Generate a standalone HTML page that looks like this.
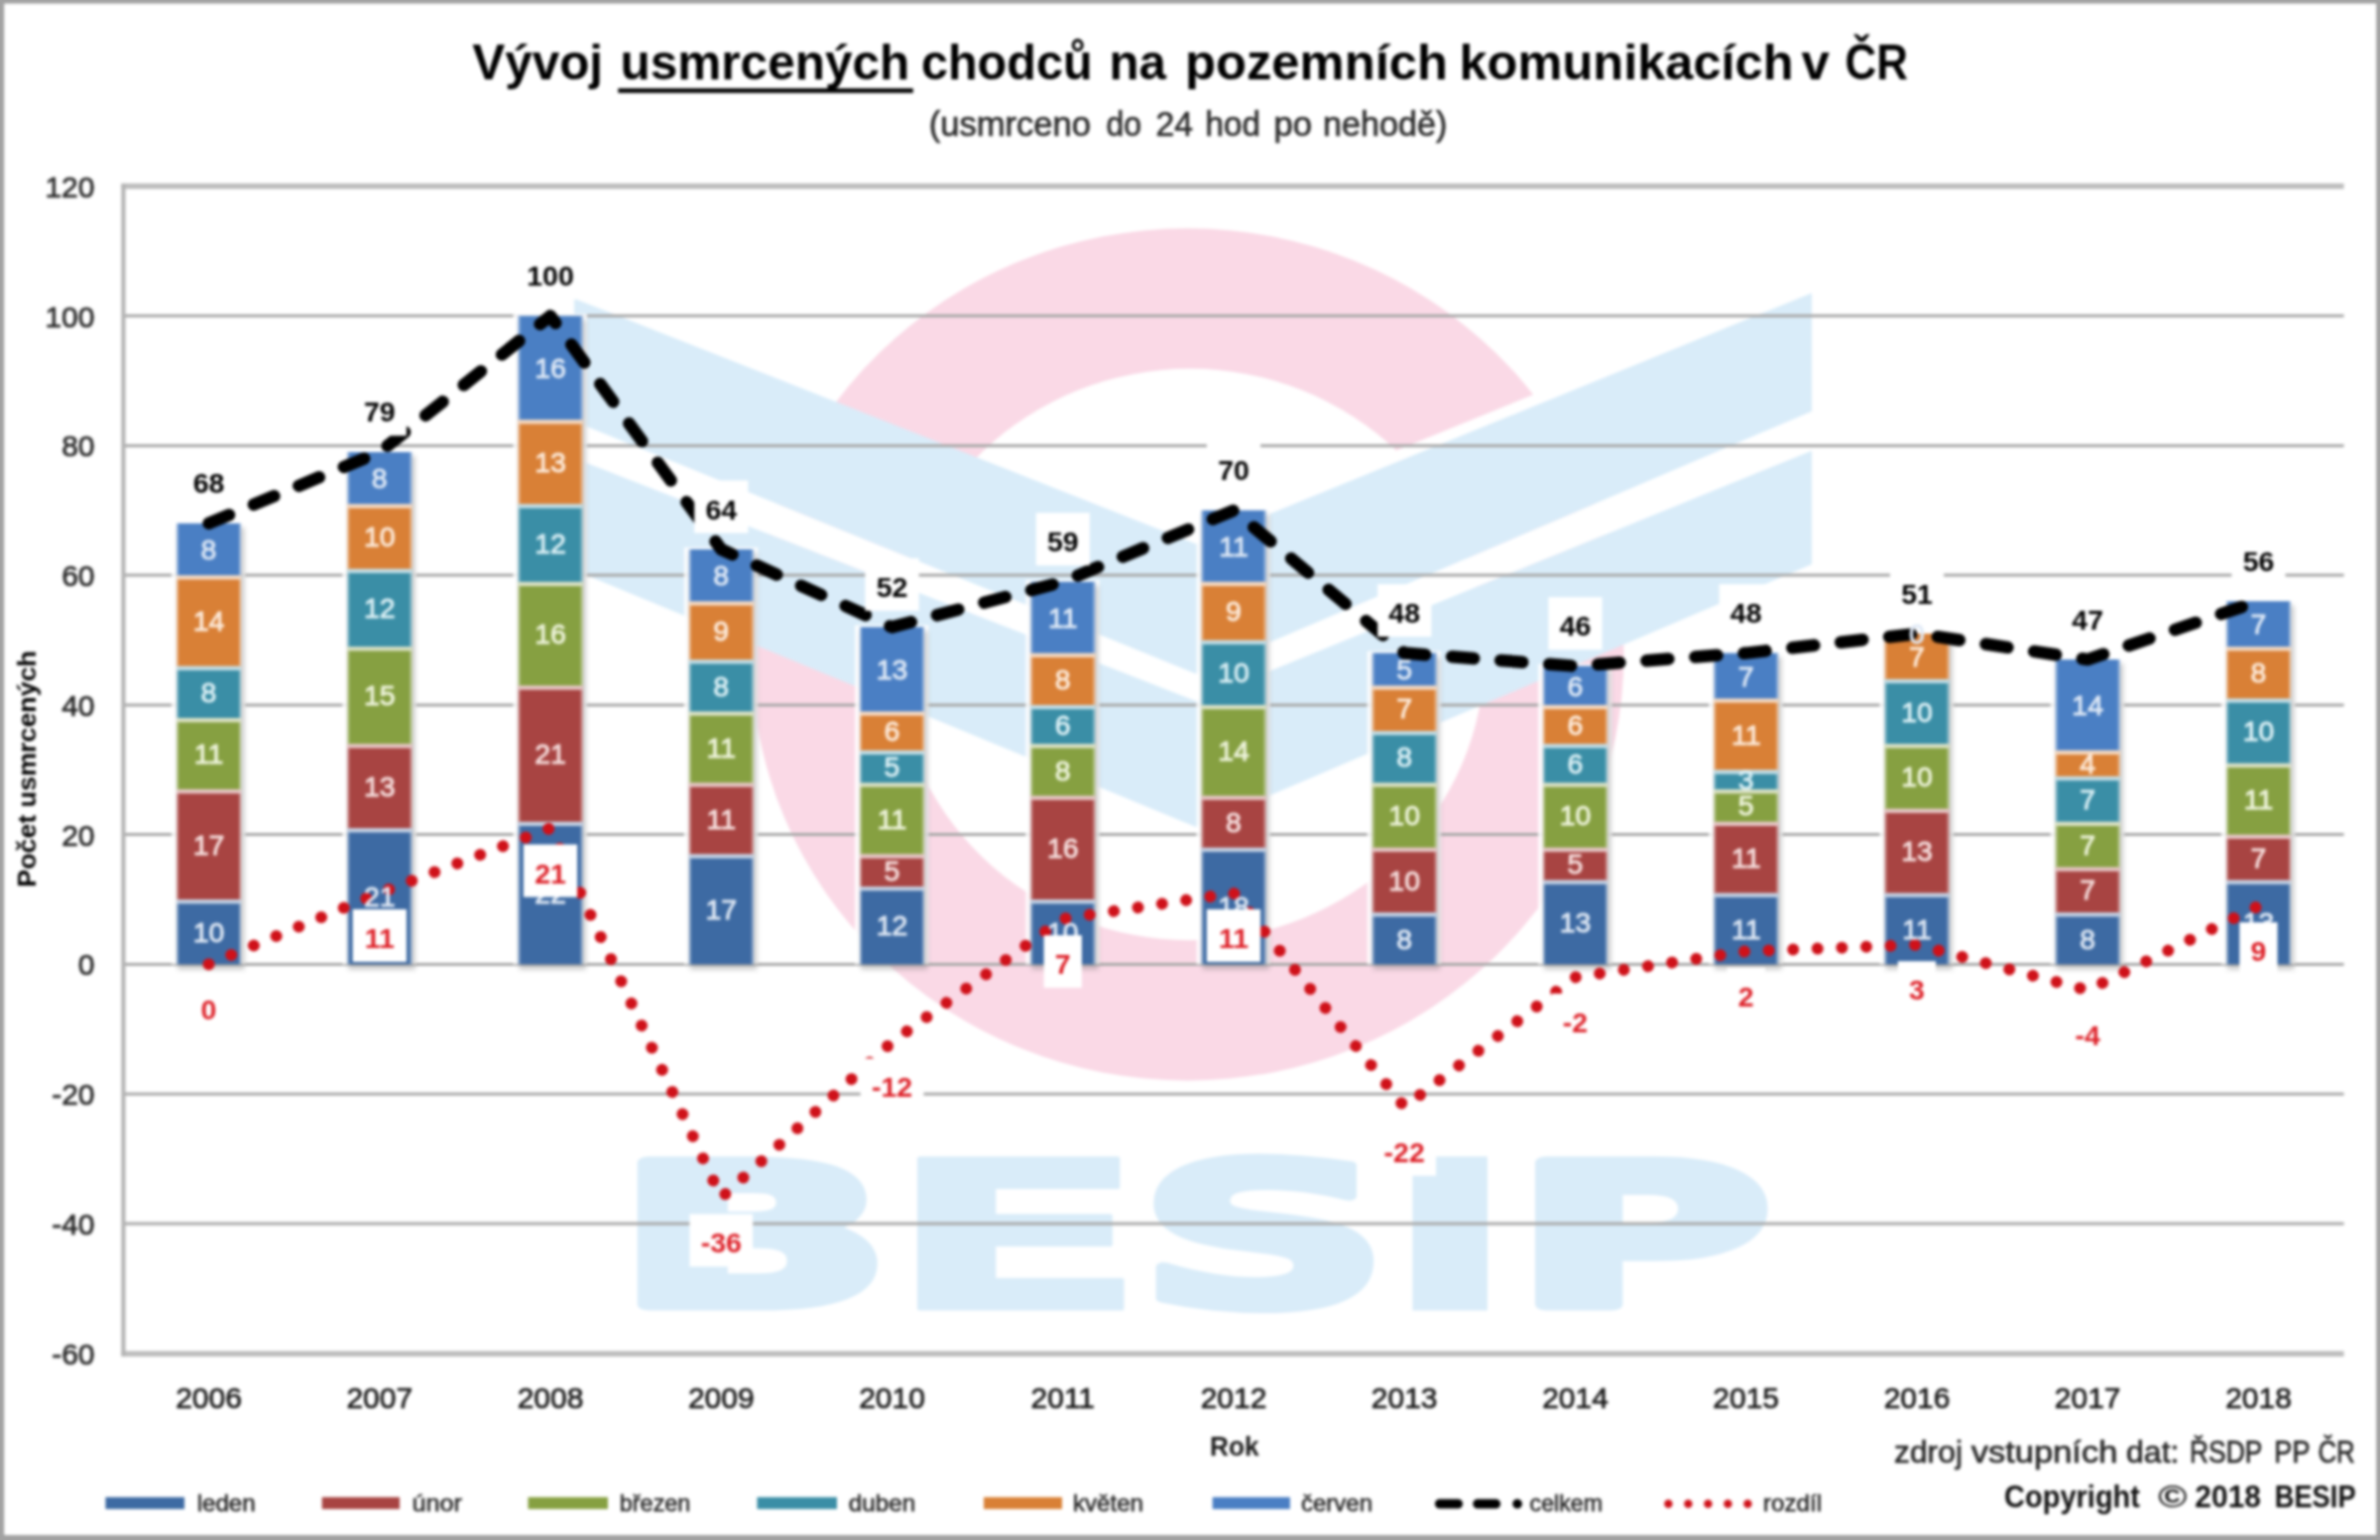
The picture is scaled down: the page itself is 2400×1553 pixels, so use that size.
<!DOCTYPE html>
<html lang="cs">
<head>
<meta charset="utf-8">
<title>Vývoj usmrcených chodců na pozemních komunikacích v ČR</title>
<style>
html,body{margin:0;padding:0;background:#a2a2a2;}
body{width:2400px;height:1553px;overflow:hidden;font-family:"Liberation Sans", "DejaVu Sans", sans-serif;}
svg{display:block;filter:blur(1.5px);}
</style>
</head>
<body>
<svg width="2400" height="1553" viewBox="0 0 2400 1553" font-family='"Liberation Sans", "DejaVu Sans", sans-serif'>
<defs>
<filter id="sh" x="-20%" y="-5%" width="150%" height="115%"><feGaussianBlur stdDeviation="2.2"/></filter>
</defs>
<rect x="0" y="0" width="2400" height="1553" fill="#a2a2a2"/>
<rect x="4.2" y="3.6" width="2392.0" height="1544.4" fill="#ffffff"/>
<g id="watermark">
<path d="M757.5,660 A440,429.5 0 1 0 1637.5,660 A440,429.5 0 1 0 757.5,660 Z M903,660 A297,288 0 1 0 1497,660 A297,288 0 1 0 903,660 Z" fill="#fad9e6" fill-rule="evenodd"/>
<path d="M1206,548.5 L1827,295.5" stroke="#ffffff" stroke-width="22" fill="none"/>
<path d="M579,425 L1206,679.5 L1827,414.7 L1827,454.5 L1206,707 L579,462 Z" fill="#ffffff"/>
<path d="M579,301 L1206,548.5 L1827,295.5 L1827,414.7 L1206,679.5 L579,425 Z" fill="#d9ecf9"/>
<path d="M579,462 L1206,707 L1827,454.5 L1827,569 L1206,834 L579,575 Z" fill="#d9ecf9"/>
<text font-family='"DejaVu Sans", "Liberation Sans", sans-serif' font-weight="bold" fill="#d9ecf9" stroke="#d9ecf9" stroke-linejoin="round"><tspan x="620.3" y="1315.5" font-size="196.6" stroke-width="12" textLength="279.0" lengthAdjust="spacingAndGlyphs">B</tspan><tspan x="891.9" y="1320.0" font-size="208.9" stroke-width="3" textLength="267.5" lengthAdjust="spacingAndGlyphs">E</tspan><tspan x="1145.7" y="1317.0" font-size="200.7" stroke-width="9" textLength="257.7" lengthAdjust="spacingAndGlyphs">S</tspan><tspan x="1387.6" y="1321.5" font-size="213.0" stroke-width="0" textLength="149.4" lengthAdjust="spacingAndGlyphs">I</tspan><tspan x="1526.3" y="1315.5" font-size="196.6" stroke-width="12" textLength="260.0" lengthAdjust="spacingAndGlyphs">P</tspan></text>
</g>
<g id="grid">
<line x1="124.4" y1="1233.9" x2="2363.6" y2="1233.9" stroke="#a8a8a8" stroke-width="3"/>
<line x1="124.4" y1="1103.2" x2="2363.6" y2="1103.2" stroke="#a8a8a8" stroke-width="3"/>
<line x1="124.4" y1="972.4" x2="2363.6" y2="972.4" stroke="#a8a8a8" stroke-width="3"/>
<line x1="124.4" y1="841.6" x2="2363.6" y2="841.6" stroke="#a8a8a8" stroke-width="3"/>
<line x1="124.4" y1="710.9" x2="2363.6" y2="710.9" stroke="#a8a8a8" stroke-width="3"/>
<line x1="124.4" y1="580.1" x2="2363.6" y2="580.1" stroke="#a8a8a8" stroke-width="3"/>
<line x1="124.4" y1="449.4" x2="2363.6" y2="449.4" stroke="#a8a8a8" stroke-width="3"/>
<line x1="124.4" y1="318.6" x2="2363.6" y2="318.6" stroke="#a8a8a8" stroke-width="3"/>
<line x1="122.2" y1="187.8" x2="2363.6" y2="187.8" stroke="#bcbcbc" stroke-width="5.5"/>
<line x1="122.2" y1="1365.2" x2="2363.6" y2="1365.2" stroke="#bcbcbc" stroke-width="5.5"/>
<line x1="124.4" y1="185.3" x2="124.4" y2="1367.7" stroke="#b4b4b4" stroke-width="4.2"/>
</g>
<g id="bars">
<rect x="173.0" y="525.8" width="74.5" height="446.6" fill="#ffffff" opacity="0.85"/>
<rect x="179.0" y="531.8" width="67.5" height="446.1" fill="#606060" opacity="0.3" filter="url(#sh)"/>
<rect x="178.0" y="907.0" width="65.0" height="65.4" fill="#3d6aa3"/>
<rect x="178.0" y="905.8" width="65.0" height="5.6" fill="#c9d5e5" opacity="0.95"/>
<rect x="178.0" y="907.0" width="2" height="65.4" fill="#c9d5e5" opacity="0.55"/>
<rect x="241.0" y="907.0" width="2" height="65.4" fill="#c9d5e5" opacity="0.55"/>
<rect x="178.0" y="795.9" width="65.0" height="111.1" fill="#a84442"/>
<rect x="178.0" y="794.7" width="65.0" height="5.6" fill="#e7cbca" opacity="0.95"/>
<rect x="178.0" y="795.9" width="2" height="111.1" fill="#e7cbca" opacity="0.55"/>
<rect x="241.0" y="795.9" width="2" height="111.1" fill="#e7cbca" opacity="0.55"/>
<rect x="178.0" y="724.0" width="65.0" height="71.9" fill="#86a041"/>
<rect x="178.0" y="722.8" width="65.0" height="5.6" fill="#dde4ca" opacity="0.95"/>
<rect x="178.0" y="724.0" width="2" height="71.9" fill="#dde4ca" opacity="0.55"/>
<rect x="241.0" y="724.0" width="2" height="71.9" fill="#dde4ca" opacity="0.55"/>
<rect x="178.0" y="671.7" width="65.0" height="52.3" fill="#3a8ea6"/>
<rect x="178.0" y="670.5" width="65.0" height="5.6" fill="#c8dfe6" opacity="0.95"/>
<rect x="178.0" y="671.7" width="2" height="52.3" fill="#c8dfe6" opacity="0.55"/>
<rect x="241.0" y="671.7" width="2" height="52.3" fill="#c8dfe6" opacity="0.55"/>
<rect x="178.0" y="580.1" width="65.0" height="91.5" fill="#d98036"/>
<rect x="178.0" y="578.9" width="65.0" height="5.6" fill="#f4dbc7" opacity="0.95"/>
<rect x="178.0" y="580.1" width="2" height="91.5" fill="#f4dbc7" opacity="0.55"/>
<rect x="241.0" y="580.1" width="2" height="91.5" fill="#f4dbc7" opacity="0.55"/>
<rect x="178.0" y="527.8" width="65.0" height="52.3" fill="#4a7fc4"/>
<rect x="178.0" y="527.8" width="2" height="52.3" fill="#ccdbee" opacity="0.55"/>
<rect x="241.0" y="527.8" width="2" height="52.3" fill="#ccdbee" opacity="0.55"/>
<rect x="345.3" y="453.9" width="74.5" height="518.5" fill="#ffffff" opacity="0.85"/>
<rect x="351.3" y="459.9" width="67.5" height="518.0" fill="#606060" opacity="0.3" filter="url(#sh)"/>
<rect x="350.3" y="835.1" width="65.0" height="137.3" fill="#3d6aa3"/>
<rect x="350.3" y="833.9" width="65.0" height="5.6" fill="#c9d5e5" opacity="0.95"/>
<rect x="350.3" y="835.1" width="2" height="137.3" fill="#c9d5e5" opacity="0.55"/>
<rect x="413.3" y="835.1" width="2" height="137.3" fill="#c9d5e5" opacity="0.55"/>
<rect x="350.3" y="750.1" width="65.0" height="85.0" fill="#a84442"/>
<rect x="350.3" y="748.9" width="65.0" height="5.6" fill="#e7cbca" opacity="0.95"/>
<rect x="350.3" y="750.1" width="2" height="85.0" fill="#e7cbca" opacity="0.55"/>
<rect x="413.3" y="750.1" width="2" height="85.0" fill="#e7cbca" opacity="0.55"/>
<rect x="350.3" y="652.0" width="65.0" height="98.1" fill="#86a041"/>
<rect x="350.3" y="650.8" width="65.0" height="5.6" fill="#dde4ca" opacity="0.95"/>
<rect x="350.3" y="652.0" width="2" height="98.1" fill="#dde4ca" opacity="0.55"/>
<rect x="413.3" y="652.0" width="2" height="98.1" fill="#dde4ca" opacity="0.55"/>
<rect x="350.3" y="573.6" width="65.0" height="78.5" fill="#3a8ea6"/>
<rect x="350.3" y="572.4" width="65.0" height="5.6" fill="#c8dfe6" opacity="0.95"/>
<rect x="350.3" y="573.6" width="2" height="78.5" fill="#c8dfe6" opacity="0.55"/>
<rect x="413.3" y="573.6" width="2" height="78.5" fill="#c8dfe6" opacity="0.55"/>
<rect x="350.3" y="508.2" width="65.0" height="65.4" fill="#d98036"/>
<rect x="350.3" y="507.0" width="65.0" height="5.6" fill="#f4dbc7" opacity="0.95"/>
<rect x="350.3" y="508.2" width="2" height="65.4" fill="#f4dbc7" opacity="0.55"/>
<rect x="413.3" y="508.2" width="2" height="65.4" fill="#f4dbc7" opacity="0.55"/>
<rect x="350.3" y="455.9" width="65.0" height="52.3" fill="#4a7fc4"/>
<rect x="350.3" y="455.9" width="2" height="52.3" fill="#ccdbee" opacity="0.55"/>
<rect x="413.3" y="455.9" width="2" height="52.3" fill="#ccdbee" opacity="0.55"/>
<rect x="517.5" y="316.6" width="74.5" height="655.8" fill="#ffffff" opacity="0.85"/>
<rect x="523.5" y="322.6" width="67.5" height="655.3" fill="#606060" opacity="0.3" filter="url(#sh)"/>
<rect x="522.5" y="828.6" width="65.0" height="143.8" fill="#3d6aa3"/>
<rect x="522.5" y="827.4" width="65.0" height="5.6" fill="#c9d5e5" opacity="0.95"/>
<rect x="522.5" y="828.6" width="2" height="143.8" fill="#c9d5e5" opacity="0.55"/>
<rect x="585.5" y="828.6" width="2" height="143.8" fill="#c9d5e5" opacity="0.55"/>
<rect x="522.5" y="691.3" width="65.0" height="137.3" fill="#a84442"/>
<rect x="522.5" y="690.1" width="65.0" height="5.6" fill="#e7cbca" opacity="0.95"/>
<rect x="522.5" y="691.3" width="2" height="137.3" fill="#e7cbca" opacity="0.55"/>
<rect x="585.5" y="691.3" width="2" height="137.3" fill="#e7cbca" opacity="0.55"/>
<rect x="522.5" y="586.7" width="65.0" height="104.6" fill="#86a041"/>
<rect x="522.5" y="585.5" width="65.0" height="5.6" fill="#dde4ca" opacity="0.95"/>
<rect x="522.5" y="586.7" width="2" height="104.6" fill="#dde4ca" opacity="0.55"/>
<rect x="585.5" y="586.7" width="2" height="104.6" fill="#dde4ca" opacity="0.55"/>
<rect x="522.5" y="508.2" width="65.0" height="78.5" fill="#3a8ea6"/>
<rect x="522.5" y="507.0" width="65.0" height="5.6" fill="#c8dfe6" opacity="0.95"/>
<rect x="522.5" y="508.2" width="2" height="78.5" fill="#c8dfe6" opacity="0.55"/>
<rect x="585.5" y="508.2" width="2" height="78.5" fill="#c8dfe6" opacity="0.55"/>
<rect x="522.5" y="423.2" width="65.0" height="85.0" fill="#d98036"/>
<rect x="522.5" y="422.0" width="65.0" height="5.6" fill="#f4dbc7" opacity="0.95"/>
<rect x="522.5" y="423.2" width="2" height="85.0" fill="#f4dbc7" opacity="0.55"/>
<rect x="585.5" y="423.2" width="2" height="85.0" fill="#f4dbc7" opacity="0.55"/>
<rect x="522.5" y="318.6" width="65.0" height="104.6" fill="#4a7fc4"/>
<rect x="522.5" y="318.6" width="2" height="104.6" fill="#ccdbee" opacity="0.55"/>
<rect x="585.5" y="318.6" width="2" height="104.6" fill="#ccdbee" opacity="0.55"/>
<rect x="689.8" y="552.0" width="74.5" height="420.4" fill="#ffffff" opacity="0.85"/>
<rect x="695.8" y="558.0" width="67.5" height="419.9" fill="#606060" opacity="0.3" filter="url(#sh)"/>
<rect x="694.8" y="861.3" width="65.0" height="111.1" fill="#3d6aa3"/>
<rect x="694.8" y="860.1" width="65.0" height="5.6" fill="#c9d5e5" opacity="0.95"/>
<rect x="694.8" y="861.3" width="2" height="111.1" fill="#c9d5e5" opacity="0.55"/>
<rect x="757.8" y="861.3" width="2" height="111.1" fill="#c9d5e5" opacity="0.55"/>
<rect x="694.8" y="789.3" width="65.0" height="71.9" fill="#a84442"/>
<rect x="694.8" y="788.1" width="65.0" height="5.6" fill="#e7cbca" opacity="0.95"/>
<rect x="694.8" y="789.3" width="2" height="71.9" fill="#e7cbca" opacity="0.55"/>
<rect x="757.8" y="789.3" width="2" height="71.9" fill="#e7cbca" opacity="0.55"/>
<rect x="694.8" y="717.4" width="65.0" height="71.9" fill="#86a041"/>
<rect x="694.8" y="716.2" width="65.0" height="5.6" fill="#dde4ca" opacity="0.95"/>
<rect x="694.8" y="717.4" width="2" height="71.9" fill="#dde4ca" opacity="0.55"/>
<rect x="757.8" y="717.4" width="2" height="71.9" fill="#dde4ca" opacity="0.55"/>
<rect x="694.8" y="665.1" width="65.0" height="52.3" fill="#3a8ea6"/>
<rect x="694.8" y="663.9" width="65.0" height="5.6" fill="#c8dfe6" opacity="0.95"/>
<rect x="694.8" y="665.1" width="2" height="52.3" fill="#c8dfe6" opacity="0.55"/>
<rect x="757.8" y="665.1" width="2" height="52.3" fill="#c8dfe6" opacity="0.55"/>
<rect x="694.8" y="606.3" width="65.0" height="58.8" fill="#d98036"/>
<rect x="694.8" y="605.1" width="65.0" height="5.6" fill="#f4dbc7" opacity="0.95"/>
<rect x="694.8" y="606.3" width="2" height="58.8" fill="#f4dbc7" opacity="0.55"/>
<rect x="757.8" y="606.3" width="2" height="58.8" fill="#f4dbc7" opacity="0.55"/>
<rect x="694.8" y="554.0" width="65.0" height="52.3" fill="#4a7fc4"/>
<rect x="694.8" y="554.0" width="2" height="52.3" fill="#ccdbee" opacity="0.55"/>
<rect x="757.8" y="554.0" width="2" height="52.3" fill="#ccdbee" opacity="0.55"/>
<rect x="862.0" y="630.4" width="74.5" height="342.0" fill="#ffffff" opacity="0.85"/>
<rect x="868.0" y="636.4" width="67.5" height="341.5" fill="#606060" opacity="0.3" filter="url(#sh)"/>
<rect x="867.0" y="893.9" width="65.0" height="78.5" fill="#3d6aa3"/>
<rect x="867.0" y="892.7" width="65.0" height="5.6" fill="#c9d5e5" opacity="0.95"/>
<rect x="867.0" y="893.9" width="2" height="78.5" fill="#c9d5e5" opacity="0.55"/>
<rect x="930.0" y="893.9" width="2" height="78.5" fill="#c9d5e5" opacity="0.55"/>
<rect x="867.0" y="861.3" width="65.0" height="32.7" fill="#a84442"/>
<rect x="867.0" y="860.1" width="65.0" height="5.6" fill="#e7cbca" opacity="0.95"/>
<rect x="867.0" y="861.3" width="2" height="32.7" fill="#e7cbca" opacity="0.55"/>
<rect x="930.0" y="861.3" width="2" height="32.7" fill="#e7cbca" opacity="0.55"/>
<rect x="867.0" y="789.3" width="65.0" height="71.9" fill="#86a041"/>
<rect x="867.0" y="788.1" width="65.0" height="5.6" fill="#dde4ca" opacity="0.95"/>
<rect x="867.0" y="789.3" width="2" height="71.9" fill="#dde4ca" opacity="0.55"/>
<rect x="930.0" y="789.3" width="2" height="71.9" fill="#dde4ca" opacity="0.55"/>
<rect x="867.0" y="756.6" width="65.0" height="32.7" fill="#3a8ea6"/>
<rect x="867.0" y="755.4" width="65.0" height="5.6" fill="#c8dfe6" opacity="0.95"/>
<rect x="867.0" y="756.6" width="2" height="32.7" fill="#c8dfe6" opacity="0.55"/>
<rect x="930.0" y="756.6" width="2" height="32.7" fill="#c8dfe6" opacity="0.55"/>
<rect x="867.0" y="717.4" width="65.0" height="39.2" fill="#d98036"/>
<rect x="867.0" y="716.2" width="65.0" height="5.6" fill="#f4dbc7" opacity="0.95"/>
<rect x="867.0" y="717.4" width="2" height="39.2" fill="#f4dbc7" opacity="0.55"/>
<rect x="930.0" y="717.4" width="2" height="39.2" fill="#f4dbc7" opacity="0.55"/>
<rect x="867.0" y="632.4" width="65.0" height="85.0" fill="#4a7fc4"/>
<rect x="867.0" y="632.4" width="2" height="85.0" fill="#ccdbee" opacity="0.55"/>
<rect x="930.0" y="632.4" width="2" height="85.0" fill="#ccdbee" opacity="0.55"/>
<rect x="1034.3" y="584.7" width="74.5" height="387.7" fill="#ffffff" opacity="0.85"/>
<rect x="1040.3" y="590.7" width="67.5" height="387.2" fill="#606060" opacity="0.3" filter="url(#sh)"/>
<rect x="1039.3" y="907.0" width="65.0" height="65.4" fill="#3d6aa3"/>
<rect x="1039.3" y="905.8" width="65.0" height="5.6" fill="#c9d5e5" opacity="0.95"/>
<rect x="1039.3" y="907.0" width="2" height="65.4" fill="#c9d5e5" opacity="0.55"/>
<rect x="1102.3" y="907.0" width="2" height="65.4" fill="#c9d5e5" opacity="0.55"/>
<rect x="1039.3" y="802.4" width="65.0" height="104.6" fill="#a84442"/>
<rect x="1039.3" y="801.2" width="65.0" height="5.6" fill="#e7cbca" opacity="0.95"/>
<rect x="1039.3" y="802.4" width="2" height="104.6" fill="#e7cbca" opacity="0.55"/>
<rect x="1102.3" y="802.4" width="2" height="104.6" fill="#e7cbca" opacity="0.55"/>
<rect x="1039.3" y="750.1" width="65.0" height="52.3" fill="#86a041"/>
<rect x="1039.3" y="748.9" width="65.0" height="5.6" fill="#dde4ca" opacity="0.95"/>
<rect x="1039.3" y="750.1" width="2" height="52.3" fill="#dde4ca" opacity="0.55"/>
<rect x="1102.3" y="750.1" width="2" height="52.3" fill="#dde4ca" opacity="0.55"/>
<rect x="1039.3" y="710.9" width="65.0" height="39.2" fill="#3a8ea6"/>
<rect x="1039.3" y="709.7" width="65.0" height="5.6" fill="#c8dfe6" opacity="0.95"/>
<rect x="1039.3" y="710.9" width="2" height="39.2" fill="#c8dfe6" opacity="0.55"/>
<rect x="1102.3" y="710.9" width="2" height="39.2" fill="#c8dfe6" opacity="0.55"/>
<rect x="1039.3" y="658.6" width="65.0" height="52.3" fill="#d98036"/>
<rect x="1039.3" y="657.4" width="65.0" height="5.6" fill="#f4dbc7" opacity="0.95"/>
<rect x="1039.3" y="658.6" width="2" height="52.3" fill="#f4dbc7" opacity="0.55"/>
<rect x="1102.3" y="658.6" width="2" height="52.3" fill="#f4dbc7" opacity="0.55"/>
<rect x="1039.3" y="586.7" width="65.0" height="71.9" fill="#4a7fc4"/>
<rect x="1039.3" y="586.7" width="2" height="71.9" fill="#ccdbee" opacity="0.55"/>
<rect x="1102.3" y="586.7" width="2" height="71.9" fill="#ccdbee" opacity="0.55"/>
<rect x="1206.5" y="512.7" width="74.5" height="459.7" fill="#ffffff" opacity="0.85"/>
<rect x="1212.5" y="518.7" width="67.5" height="459.2" fill="#606060" opacity="0.3" filter="url(#sh)"/>
<rect x="1211.5" y="854.7" width="65.0" height="117.7" fill="#3d6aa3"/>
<rect x="1211.5" y="853.5" width="65.0" height="5.6" fill="#c9d5e5" opacity="0.95"/>
<rect x="1211.5" y="854.7" width="2" height="117.7" fill="#c9d5e5" opacity="0.55"/>
<rect x="1274.5" y="854.7" width="2" height="117.7" fill="#c9d5e5" opacity="0.55"/>
<rect x="1211.5" y="802.4" width="65.0" height="52.3" fill="#a84442"/>
<rect x="1211.5" y="801.2" width="65.0" height="5.6" fill="#e7cbca" opacity="0.95"/>
<rect x="1211.5" y="802.4" width="2" height="52.3" fill="#e7cbca" opacity="0.55"/>
<rect x="1274.5" y="802.4" width="2" height="52.3" fill="#e7cbca" opacity="0.55"/>
<rect x="1211.5" y="710.9" width="65.0" height="91.5" fill="#86a041"/>
<rect x="1211.5" y="709.7" width="65.0" height="5.6" fill="#dde4ca" opacity="0.95"/>
<rect x="1211.5" y="710.9" width="2" height="91.5" fill="#dde4ca" opacity="0.55"/>
<rect x="1274.5" y="710.9" width="2" height="91.5" fill="#dde4ca" opacity="0.55"/>
<rect x="1211.5" y="645.5" width="65.0" height="65.4" fill="#3a8ea6"/>
<rect x="1211.5" y="644.3" width="65.0" height="5.6" fill="#c8dfe6" opacity="0.95"/>
<rect x="1211.5" y="645.5" width="2" height="65.4" fill="#c8dfe6" opacity="0.55"/>
<rect x="1274.5" y="645.5" width="2" height="65.4" fill="#c8dfe6" opacity="0.55"/>
<rect x="1211.5" y="586.7" width="65.0" height="58.8" fill="#d98036"/>
<rect x="1211.5" y="585.5" width="65.0" height="5.6" fill="#f4dbc7" opacity="0.95"/>
<rect x="1211.5" y="586.7" width="2" height="58.8" fill="#f4dbc7" opacity="0.55"/>
<rect x="1274.5" y="586.7" width="2" height="58.8" fill="#f4dbc7" opacity="0.55"/>
<rect x="1211.5" y="514.7" width="65.0" height="71.9" fill="#4a7fc4"/>
<rect x="1211.5" y="514.7" width="2" height="71.9" fill="#ccdbee" opacity="0.55"/>
<rect x="1274.5" y="514.7" width="2" height="71.9" fill="#ccdbee" opacity="0.55"/>
<rect x="1378.7" y="656.6" width="74.5" height="315.8" fill="#ffffff" opacity="0.85"/>
<rect x="1384.7" y="662.6" width="67.5" height="315.3" fill="#606060" opacity="0.3" filter="url(#sh)"/>
<rect x="1383.7" y="920.1" width="65.0" height="52.3" fill="#3d6aa3"/>
<rect x="1383.7" y="918.9" width="65.0" height="5.6" fill="#c9d5e5" opacity="0.95"/>
<rect x="1383.7" y="920.1" width="2" height="52.3" fill="#c9d5e5" opacity="0.55"/>
<rect x="1446.7" y="920.1" width="2" height="52.3" fill="#c9d5e5" opacity="0.55"/>
<rect x="1383.7" y="854.7" width="65.0" height="65.4" fill="#a84442"/>
<rect x="1383.7" y="853.5" width="65.0" height="5.6" fill="#e7cbca" opacity="0.95"/>
<rect x="1383.7" y="854.7" width="2" height="65.4" fill="#e7cbca" opacity="0.55"/>
<rect x="1446.7" y="854.7" width="2" height="65.4" fill="#e7cbca" opacity="0.55"/>
<rect x="1383.7" y="789.3" width="65.0" height="65.4" fill="#86a041"/>
<rect x="1383.7" y="788.1" width="65.0" height="5.6" fill="#dde4ca" opacity="0.95"/>
<rect x="1383.7" y="789.3" width="2" height="65.4" fill="#dde4ca" opacity="0.55"/>
<rect x="1446.7" y="789.3" width="2" height="65.4" fill="#dde4ca" opacity="0.55"/>
<rect x="1383.7" y="737.0" width="65.0" height="52.3" fill="#3a8ea6"/>
<rect x="1383.7" y="735.8" width="65.0" height="5.6" fill="#c8dfe6" opacity="0.95"/>
<rect x="1383.7" y="737.0" width="2" height="52.3" fill="#c8dfe6" opacity="0.55"/>
<rect x="1446.7" y="737.0" width="2" height="52.3" fill="#c8dfe6" opacity="0.55"/>
<rect x="1383.7" y="691.3" width="65.0" height="45.8" fill="#d98036"/>
<rect x="1383.7" y="690.1" width="65.0" height="5.6" fill="#f4dbc7" opacity="0.95"/>
<rect x="1383.7" y="691.3" width="2" height="45.8" fill="#f4dbc7" opacity="0.55"/>
<rect x="1446.7" y="691.3" width="2" height="45.8" fill="#f4dbc7" opacity="0.55"/>
<rect x="1383.7" y="658.6" width="65.0" height="32.7" fill="#4a7fc4"/>
<rect x="1383.7" y="658.6" width="2" height="32.7" fill="#ccdbee" opacity="0.55"/>
<rect x="1446.7" y="658.6" width="2" height="32.7" fill="#ccdbee" opacity="0.55"/>
<rect x="1551.0" y="669.7" width="74.5" height="302.7" fill="#ffffff" opacity="0.85"/>
<rect x="1557.0" y="675.7" width="67.5" height="302.2" fill="#606060" opacity="0.3" filter="url(#sh)"/>
<rect x="1556.0" y="887.4" width="65.0" height="85.0" fill="#3d6aa3"/>
<rect x="1556.0" y="886.2" width="65.0" height="5.6" fill="#c9d5e5" opacity="0.95"/>
<rect x="1556.0" y="887.4" width="2" height="85.0" fill="#c9d5e5" opacity="0.55"/>
<rect x="1619.0" y="887.4" width="2" height="85.0" fill="#c9d5e5" opacity="0.55"/>
<rect x="1556.0" y="854.7" width="65.0" height="32.7" fill="#a84442"/>
<rect x="1556.0" y="853.5" width="65.0" height="5.6" fill="#e7cbca" opacity="0.95"/>
<rect x="1556.0" y="854.7" width="2" height="32.7" fill="#e7cbca" opacity="0.55"/>
<rect x="1619.0" y="854.7" width="2" height="32.7" fill="#e7cbca" opacity="0.55"/>
<rect x="1556.0" y="789.3" width="65.0" height="65.4" fill="#86a041"/>
<rect x="1556.0" y="788.1" width="65.0" height="5.6" fill="#dde4ca" opacity="0.95"/>
<rect x="1556.0" y="789.3" width="2" height="65.4" fill="#dde4ca" opacity="0.55"/>
<rect x="1619.0" y="789.3" width="2" height="65.4" fill="#dde4ca" opacity="0.55"/>
<rect x="1556.0" y="750.1" width="65.0" height="39.2" fill="#3a8ea6"/>
<rect x="1556.0" y="748.9" width="65.0" height="5.6" fill="#c8dfe6" opacity="0.95"/>
<rect x="1556.0" y="750.1" width="2" height="39.2" fill="#c8dfe6" opacity="0.55"/>
<rect x="1619.0" y="750.1" width="2" height="39.2" fill="#c8dfe6" opacity="0.55"/>
<rect x="1556.0" y="710.9" width="65.0" height="39.2" fill="#d98036"/>
<rect x="1556.0" y="709.7" width="65.0" height="5.6" fill="#f4dbc7" opacity="0.95"/>
<rect x="1556.0" y="710.9" width="2" height="39.2" fill="#f4dbc7" opacity="0.55"/>
<rect x="1619.0" y="710.9" width="2" height="39.2" fill="#f4dbc7" opacity="0.55"/>
<rect x="1556.0" y="671.7" width="65.0" height="39.2" fill="#4a7fc4"/>
<rect x="1556.0" y="671.7" width="2" height="39.2" fill="#ccdbee" opacity="0.55"/>
<rect x="1619.0" y="671.7" width="2" height="39.2" fill="#ccdbee" opacity="0.55"/>
<rect x="1723.2" y="656.6" width="74.5" height="315.8" fill="#ffffff" opacity="0.85"/>
<rect x="1729.2" y="662.6" width="67.5" height="315.3" fill="#606060" opacity="0.3" filter="url(#sh)"/>
<rect x="1728.2" y="900.5" width="65.0" height="71.9" fill="#3d6aa3"/>
<rect x="1728.2" y="899.3" width="65.0" height="5.6" fill="#c9d5e5" opacity="0.95"/>
<rect x="1728.2" y="900.5" width="2" height="71.9" fill="#c9d5e5" opacity="0.55"/>
<rect x="1791.2" y="900.5" width="2" height="71.9" fill="#c9d5e5" opacity="0.55"/>
<rect x="1728.2" y="828.6" width="65.0" height="71.9" fill="#a84442"/>
<rect x="1728.2" y="827.4" width="65.0" height="5.6" fill="#e7cbca" opacity="0.95"/>
<rect x="1728.2" y="828.6" width="2" height="71.9" fill="#e7cbca" opacity="0.55"/>
<rect x="1791.2" y="828.6" width="2" height="71.9" fill="#e7cbca" opacity="0.55"/>
<rect x="1728.2" y="795.9" width="65.0" height="32.7" fill="#86a041"/>
<rect x="1728.2" y="794.7" width="65.0" height="5.6" fill="#dde4ca" opacity="0.95"/>
<rect x="1728.2" y="795.9" width="2" height="32.7" fill="#dde4ca" opacity="0.55"/>
<rect x="1791.2" y="795.9" width="2" height="32.7" fill="#dde4ca" opacity="0.55"/>
<rect x="1728.2" y="776.3" width="65.0" height="19.6" fill="#3a8ea6"/>
<rect x="1728.2" y="775.1" width="65.0" height="5.6" fill="#c8dfe6" opacity="0.95"/>
<rect x="1728.2" y="776.3" width="2" height="19.6" fill="#c8dfe6" opacity="0.55"/>
<rect x="1791.2" y="776.3" width="2" height="19.6" fill="#c8dfe6" opacity="0.55"/>
<rect x="1728.2" y="704.3" width="65.0" height="71.9" fill="#d98036"/>
<rect x="1728.2" y="703.1" width="65.0" height="5.6" fill="#f4dbc7" opacity="0.95"/>
<rect x="1728.2" y="704.3" width="2" height="71.9" fill="#f4dbc7" opacity="0.55"/>
<rect x="1791.2" y="704.3" width="2" height="71.9" fill="#f4dbc7" opacity="0.55"/>
<rect x="1728.2" y="658.6" width="65.0" height="45.8" fill="#4a7fc4"/>
<rect x="1728.2" y="658.6" width="2" height="45.8" fill="#ccdbee" opacity="0.55"/>
<rect x="1791.2" y="658.6" width="2" height="45.8" fill="#ccdbee" opacity="0.55"/>
<rect x="1895.5" y="637.0" width="74.5" height="335.4" fill="#ffffff" opacity="0.85"/>
<rect x="1901.5" y="643.0" width="67.5" height="334.9" fill="#606060" opacity="0.3" filter="url(#sh)"/>
<rect x="1900.5" y="900.5" width="65.0" height="71.9" fill="#3d6aa3"/>
<rect x="1900.5" y="899.3" width="65.0" height="5.6" fill="#c9d5e5" opacity="0.95"/>
<rect x="1900.5" y="900.5" width="2" height="71.9" fill="#c9d5e5" opacity="0.55"/>
<rect x="1963.5" y="900.5" width="2" height="71.9" fill="#c9d5e5" opacity="0.55"/>
<rect x="1900.5" y="815.5" width="65.0" height="85.0" fill="#a84442"/>
<rect x="1900.5" y="814.3" width="65.0" height="5.6" fill="#e7cbca" opacity="0.95"/>
<rect x="1900.5" y="815.5" width="2" height="85.0" fill="#e7cbca" opacity="0.55"/>
<rect x="1963.5" y="815.5" width="2" height="85.0" fill="#e7cbca" opacity="0.55"/>
<rect x="1900.5" y="750.1" width="65.0" height="65.4" fill="#86a041"/>
<rect x="1900.5" y="748.9" width="65.0" height="5.6" fill="#dde4ca" opacity="0.95"/>
<rect x="1900.5" y="750.1" width="2" height="65.4" fill="#dde4ca" opacity="0.55"/>
<rect x="1963.5" y="750.1" width="2" height="65.4" fill="#dde4ca" opacity="0.55"/>
<rect x="1900.5" y="684.7" width="65.0" height="65.4" fill="#3a8ea6"/>
<rect x="1900.5" y="683.5" width="65.0" height="5.6" fill="#c8dfe6" opacity="0.95"/>
<rect x="1900.5" y="684.7" width="2" height="65.4" fill="#c8dfe6" opacity="0.55"/>
<rect x="1963.5" y="684.7" width="2" height="65.4" fill="#c8dfe6" opacity="0.55"/>
<rect x="1900.5" y="639.0" width="65.0" height="45.8" fill="#d98036"/>
<rect x="1900.5" y="639.0" width="2" height="45.8" fill="#f4dbc7" opacity="0.55"/>
<rect x="1963.5" y="639.0" width="2" height="45.8" fill="#f4dbc7" opacity="0.55"/>
<rect x="2067.7" y="663.1" width="74.5" height="309.3" fill="#ffffff" opacity="0.85"/>
<rect x="2073.7" y="669.1" width="67.5" height="308.8" fill="#606060" opacity="0.3" filter="url(#sh)"/>
<rect x="2072.7" y="920.1" width="65.0" height="52.3" fill="#3d6aa3"/>
<rect x="2072.7" y="918.9" width="65.0" height="5.6" fill="#c9d5e5" opacity="0.95"/>
<rect x="2072.7" y="920.1" width="2" height="52.3" fill="#c9d5e5" opacity="0.55"/>
<rect x="2135.7" y="920.1" width="2" height="52.3" fill="#c9d5e5" opacity="0.55"/>
<rect x="2072.7" y="874.3" width="65.0" height="45.8" fill="#a84442"/>
<rect x="2072.7" y="873.1" width="65.0" height="5.6" fill="#e7cbca" opacity="0.95"/>
<rect x="2072.7" y="874.3" width="2" height="45.8" fill="#e7cbca" opacity="0.55"/>
<rect x="2135.7" y="874.3" width="2" height="45.8" fill="#e7cbca" opacity="0.55"/>
<rect x="2072.7" y="828.6" width="65.0" height="45.8" fill="#86a041"/>
<rect x="2072.7" y="827.4" width="65.0" height="5.6" fill="#dde4ca" opacity="0.95"/>
<rect x="2072.7" y="828.6" width="2" height="45.8" fill="#dde4ca" opacity="0.55"/>
<rect x="2135.7" y="828.6" width="2" height="45.8" fill="#dde4ca" opacity="0.55"/>
<rect x="2072.7" y="782.8" width="65.0" height="45.8" fill="#3a8ea6"/>
<rect x="2072.7" y="781.6" width="65.0" height="5.6" fill="#c8dfe6" opacity="0.95"/>
<rect x="2072.7" y="782.8" width="2" height="45.8" fill="#c8dfe6" opacity="0.55"/>
<rect x="2135.7" y="782.8" width="2" height="45.8" fill="#c8dfe6" opacity="0.55"/>
<rect x="2072.7" y="756.6" width="65.0" height="26.2" fill="#d98036"/>
<rect x="2072.7" y="755.4" width="65.0" height="5.6" fill="#f4dbc7" opacity="0.95"/>
<rect x="2072.7" y="756.6" width="2" height="26.2" fill="#f4dbc7" opacity="0.55"/>
<rect x="2135.7" y="756.6" width="2" height="26.2" fill="#f4dbc7" opacity="0.55"/>
<rect x="2072.7" y="665.1" width="65.0" height="91.5" fill="#4a7fc4"/>
<rect x="2072.7" y="665.1" width="2" height="91.5" fill="#ccdbee" opacity="0.55"/>
<rect x="2135.7" y="665.1" width="2" height="91.5" fill="#ccdbee" opacity="0.55"/>
<rect x="2240.0" y="604.3" width="74.5" height="368.1" fill="#ffffff" opacity="0.85"/>
<rect x="2246.0" y="610.3" width="67.5" height="367.6" fill="#606060" opacity="0.3" filter="url(#sh)"/>
<rect x="2245.0" y="887.4" width="65.0" height="85.0" fill="#3d6aa3"/>
<rect x="2245.0" y="886.2" width="65.0" height="5.6" fill="#c9d5e5" opacity="0.95"/>
<rect x="2245.0" y="887.4" width="2" height="85.0" fill="#c9d5e5" opacity="0.55"/>
<rect x="2308.0" y="887.4" width="2" height="85.0" fill="#c9d5e5" opacity="0.55"/>
<rect x="2245.0" y="841.6" width="65.0" height="45.8" fill="#a84442"/>
<rect x="2245.0" y="840.4" width="65.0" height="5.6" fill="#e7cbca" opacity="0.95"/>
<rect x="2245.0" y="841.6" width="2" height="45.8" fill="#e7cbca" opacity="0.55"/>
<rect x="2308.0" y="841.6" width="2" height="45.8" fill="#e7cbca" opacity="0.55"/>
<rect x="2245.0" y="769.7" width="65.0" height="71.9" fill="#86a041"/>
<rect x="2245.0" y="768.5" width="65.0" height="5.6" fill="#dde4ca" opacity="0.95"/>
<rect x="2245.0" y="769.7" width="2" height="71.9" fill="#dde4ca" opacity="0.55"/>
<rect x="2308.0" y="769.7" width="2" height="71.9" fill="#dde4ca" opacity="0.55"/>
<rect x="2245.0" y="704.3" width="65.0" height="65.4" fill="#3a8ea6"/>
<rect x="2245.0" y="703.1" width="65.0" height="5.6" fill="#c8dfe6" opacity="0.95"/>
<rect x="2245.0" y="704.3" width="2" height="65.4" fill="#c8dfe6" opacity="0.55"/>
<rect x="2308.0" y="704.3" width="2" height="65.4" fill="#c8dfe6" opacity="0.55"/>
<rect x="2245.0" y="652.0" width="65.0" height="52.3" fill="#d98036"/>
<rect x="2245.0" y="650.8" width="65.0" height="5.6" fill="#f4dbc7" opacity="0.95"/>
<rect x="2245.0" y="652.0" width="2" height="52.3" fill="#f4dbc7" opacity="0.55"/>
<rect x="2308.0" y="652.0" width="2" height="52.3" fill="#f4dbc7" opacity="0.55"/>
<rect x="2245.0" y="606.3" width="65.0" height="45.8" fill="#4a7fc4"/>
<rect x="2245.0" y="606.3" width="2" height="45.8" fill="#ccdbee" opacity="0.55"/>
<rect x="2308.0" y="606.3" width="2" height="45.8" fill="#ccdbee" opacity="0.55"/>
</g>
<polyline points="210.5,527.8 382.8,455.9 555.0,318.6 727.3,554.0 899.5,632.4 1071.8,586.7 1244.0,514.7 1416.2,658.6 1588.5,671.7 1760.7,658.6 1933.0,639.0 2105.2,665.1 2277.5,606.3" fill="none" stroke="#000000" stroke-width="12.5" stroke-dasharray="22.2 27" stroke-linecap="round" stroke-linejoin="round"/>
<polyline points="210.5,972.4 382.8,900.5 555.0,835.1 727.3,1207.8 899.5,1050.9 1071.8,926.6 1244.0,900.5 1416.2,1116.2 1588.5,985.5 1760.7,959.3 1933.0,952.8 2105.2,998.6 2277.5,913.6" fill="none" stroke="#cf1119" stroke-width="12" stroke-dasharray="0.01 24.584" stroke-linecap="round" stroke-linejoin="round"/>
<g id="seglabels" font-size="28.5" text-anchor="middle">
<text x="210.5" y="949.9" fill="#dfe8f4" stroke="#dfe8f4" stroke-width="0.9">10</text>
<text x="210.5" y="861.6" fill="#f6dfde" stroke="#f6dfde" stroke-width="0.9">17</text>
<text x="210.5" y="770.1" fill="#eef4dc" stroke="#eef4dc" stroke-width="0.9">11</text>
<text x="210.5" y="708.0" fill="#dcf0f5" stroke="#dcf0f5" stroke-width="0.9">8</text>
<text x="210.5" y="636.1" fill="#fdebdb" stroke="#fdebdb" stroke-width="0.9">14</text>
<text x="210.5" y="564.2" fill="#dfe9f6" stroke="#dfe9f6" stroke-width="0.9">8</text>
<text x="382.8" y="914.0" fill="#dfe8f4" stroke="#dfe8f4" stroke-width="0.9">21</text>
<text x="382.8" y="802.8" fill="#f6dfde" stroke="#f6dfde" stroke-width="0.9">13</text>
<text x="382.8" y="711.3" fill="#eef4dc" stroke="#eef4dc" stroke-width="0.9">15</text>
<text x="382.8" y="623.0" fill="#dcf0f5" stroke="#dcf0f5" stroke-width="0.9">12</text>
<text x="382.8" y="551.1" fill="#fdebdb" stroke="#fdebdb" stroke-width="0.9">10</text>
<text x="382.8" y="492.3" fill="#dfe9f6" stroke="#dfe9f6" stroke-width="0.9">8</text>
<text x="555.0" y="910.7" fill="#dfe8f4" stroke="#dfe8f4" stroke-width="0.9">22</text>
<text x="555.0" y="770.1" fill="#f6dfde" stroke="#f6dfde" stroke-width="0.9">21</text>
<text x="555.0" y="649.2" fill="#eef4dc" stroke="#eef4dc" stroke-width="0.9">16</text>
<text x="555.0" y="557.6" fill="#dcf0f5" stroke="#dcf0f5" stroke-width="0.9">12</text>
<text x="555.0" y="475.9" fill="#fdebdb" stroke="#fdebdb" stroke-width="0.9">13</text>
<text x="555.0" y="381.1" fill="#dfe9f6" stroke="#dfe9f6" stroke-width="0.9">16</text>
<text x="727.3" y="927.0" fill="#dfe8f4" stroke="#dfe8f4" stroke-width="0.9">17</text>
<text x="727.3" y="835.5" fill="#f6dfde" stroke="#f6dfde" stroke-width="0.9">11</text>
<text x="727.3" y="763.6" fill="#eef4dc" stroke="#eef4dc" stroke-width="0.9">11</text>
<text x="727.3" y="701.5" fill="#dcf0f5" stroke="#dcf0f5" stroke-width="0.9">8</text>
<text x="727.3" y="645.9" fill="#fdebdb" stroke="#fdebdb" stroke-width="0.9">9</text>
<text x="727.3" y="590.3" fill="#dfe9f6" stroke="#dfe9f6" stroke-width="0.9">8</text>
<text x="899.5" y="943.4" fill="#dfe8f4" stroke="#dfe8f4" stroke-width="0.9">12</text>
<text x="899.5" y="887.8" fill="#f6dfde" stroke="#f6dfde" stroke-width="0.9">5</text>
<text x="899.5" y="835.5" fill="#eef4dc" stroke="#eef4dc" stroke-width="0.9">11</text>
<text x="899.5" y="783.2" fill="#dcf0f5" stroke="#dcf0f5" stroke-width="0.9">5</text>
<text x="899.5" y="747.2" fill="#fdebdb" stroke="#fdebdb" stroke-width="0.9">6</text>
<text x="899.5" y="685.1" fill="#dfe9f6" stroke="#dfe9f6" stroke-width="0.9">13</text>
<text x="1071.8" y="949.9" fill="#dfe8f4" stroke="#dfe8f4" stroke-width="0.9">10</text>
<text x="1071.8" y="864.9" fill="#f6dfde" stroke="#f6dfde" stroke-width="0.9">16</text>
<text x="1071.8" y="786.5" fill="#eef4dc" stroke="#eef4dc" stroke-width="0.9">8</text>
<text x="1071.8" y="740.7" fill="#dcf0f5" stroke="#dcf0f5" stroke-width="0.9">6</text>
<text x="1071.8" y="694.9" fill="#fdebdb" stroke="#fdebdb" stroke-width="0.9">8</text>
<text x="1071.8" y="632.8" fill="#dfe9f6" stroke="#dfe9f6" stroke-width="0.9">11</text>
<text x="1244.0" y="923.8" fill="#dfe8f4" stroke="#dfe8f4" stroke-width="0.9">18</text>
<text x="1244.0" y="838.8" fill="#f6dfde" stroke="#f6dfde" stroke-width="0.9">8</text>
<text x="1244.0" y="766.8" fill="#eef4dc" stroke="#eef4dc" stroke-width="0.9">14</text>
<text x="1244.0" y="688.4" fill="#dcf0f5" stroke="#dcf0f5" stroke-width="0.9">10</text>
<text x="1244.0" y="626.3" fill="#fdebdb" stroke="#fdebdb" stroke-width="0.9">9</text>
<text x="1244.0" y="560.9" fill="#dfe9f6" stroke="#dfe9f6" stroke-width="0.9">11</text>
<text x="1416.2" y="956.5" fill="#dfe8f4" stroke="#dfe8f4" stroke-width="0.9">8</text>
<text x="1416.2" y="897.6" fill="#f6dfde" stroke="#f6dfde" stroke-width="0.9">10</text>
<text x="1416.2" y="832.2" fill="#eef4dc" stroke="#eef4dc" stroke-width="0.9">10</text>
<text x="1416.2" y="773.4" fill="#dcf0f5" stroke="#dcf0f5" stroke-width="0.9">8</text>
<text x="1416.2" y="724.4" fill="#fdebdb" stroke="#fdebdb" stroke-width="0.9">7</text>
<text x="1416.2" y="685.1" fill="#dfe9f6" stroke="#dfe9f6" stroke-width="0.9">5</text>
<text x="1588.5" y="940.1" fill="#dfe8f4" stroke="#dfe8f4" stroke-width="0.9">13</text>
<text x="1588.5" y="881.3" fill="#f6dfde" stroke="#f6dfde" stroke-width="0.9">5</text>
<text x="1588.5" y="832.2" fill="#eef4dc" stroke="#eef4dc" stroke-width="0.9">10</text>
<text x="1588.5" y="779.9" fill="#dcf0f5" stroke="#dcf0f5" stroke-width="0.9">6</text>
<text x="1588.5" y="740.7" fill="#fdebdb" stroke="#fdebdb" stroke-width="0.9">6</text>
<text x="1588.5" y="701.5" fill="#dfe9f6" stroke="#dfe9f6" stroke-width="0.9">6</text>
<text x="1760.7" y="946.6" fill="#dfe8f4" stroke="#dfe8f4" stroke-width="0.9">11</text>
<text x="1760.7" y="874.7" fill="#f6dfde" stroke="#f6dfde" stroke-width="0.9">11</text>
<text x="1760.7" y="822.4" fill="#eef4dc" stroke="#eef4dc" stroke-width="0.9">5</text>
<text x="1760.7" y="796.3" fill="#dcf0f5" stroke="#dcf0f5" stroke-width="0.9">3</text>
<text x="1760.7" y="750.5" fill="#fdebdb" stroke="#fdebdb" stroke-width="0.9">11</text>
<text x="1760.7" y="691.7" fill="#dfe9f6" stroke="#dfe9f6" stroke-width="0.9">7</text>
<text x="1933.0" y="946.6" fill="#dfe8f4" stroke="#dfe8f4" stroke-width="0.9">11</text>
<text x="1933.0" y="868.2" fill="#f6dfde" stroke="#f6dfde" stroke-width="0.9">13</text>
<text x="1933.0" y="793.0" fill="#eef4dc" stroke="#eef4dc" stroke-width="0.9">10</text>
<text x="1933.0" y="727.6" fill="#dcf0f5" stroke="#dcf0f5" stroke-width="0.9">10</text>
<text x="1933.0" y="672.0" fill="#fdebdb" stroke="#fdebdb" stroke-width="0.9">7</text>
<text x="1933.0" y="649.2" fill="#dfe9f6" stroke="#dfe9f6" stroke-width="0.9">0</text>
<text x="2105.2" y="956.5" fill="#dfe8f4" stroke="#dfe8f4" stroke-width="0.9">8</text>
<text x="2105.2" y="907.4" fill="#f6dfde" stroke="#f6dfde" stroke-width="0.9">7</text>
<text x="2105.2" y="861.6" fill="#eef4dc" stroke="#eef4dc" stroke-width="0.9">7</text>
<text x="2105.2" y="815.9" fill="#dcf0f5" stroke="#dcf0f5" stroke-width="0.9">7</text>
<text x="2105.2" y="779.9" fill="#fdebdb" stroke="#fdebdb" stroke-width="0.9">4</text>
<text x="2105.2" y="721.1" fill="#dfe9f6" stroke="#dfe9f6" stroke-width="0.9">14</text>
<text x="2277.5" y="940.1" fill="#dfe8f4" stroke="#dfe8f4" stroke-width="0.9">13</text>
<text x="2277.5" y="874.7" fill="#f6dfde" stroke="#f6dfde" stroke-width="0.9">7</text>
<text x="2277.5" y="815.9" fill="#eef4dc" stroke="#eef4dc" stroke-width="0.9">11</text>
<text x="2277.5" y="747.2" fill="#dcf0f5" stroke="#dcf0f5" stroke-width="0.9">10</text>
<text x="2277.5" y="688.4" fill="#fdebdb" stroke="#fdebdb" stroke-width="0.9">8</text>
<text x="2277.5" y="639.4" fill="#dfe9f6" stroke="#dfe9f6" stroke-width="0.9">7</text>
</g>
<g id="totlabels" font-size="28.5" font-weight="bold" text-anchor="middle">
<rect x="183.4" y="458.3" width="54.2" height="53" fill="#ffffff"/>
<text x="210.5" y="497.3" fill="#000000">68</text>
<rect x="355.7" y="386.4" width="54.2" height="53" fill="#ffffff"/>
<text x="382.8" y="425.4" fill="#000000">79</text>
<rect x="520.0" y="249.1" width="70.0" height="53" fill="#ffffff"/>
<text x="555.0" y="288.1" fill="#000000">100</text>
<rect x="700.2" y="484.5" width="54.2" height="53" fill="#ffffff"/>
<text x="727.3" y="523.5" fill="#000000">64</text>
<rect x="872.4" y="562.9" width="54.2" height="53" fill="#ffffff"/>
<text x="899.5" y="601.9" fill="#000000">52</text>
<rect x="1044.7" y="517.2" width="54.2" height="53" fill="#ffffff"/>
<text x="1071.8" y="556.2" fill="#000000">59</text>
<rect x="1216.9" y="445.2" width="54.2" height="53" fill="#ffffff"/>
<text x="1244.0" y="484.2" fill="#000000">70</text>
<rect x="1389.2" y="589.1" width="54.2" height="53" fill="#ffffff"/>
<text x="1416.2" y="628.1" fill="#000000">48</text>
<rect x="1561.4" y="602.2" width="54.2" height="53" fill="#ffffff"/>
<text x="1588.5" y="641.2" fill="#000000">46</text>
<rect x="1733.6" y="589.1" width="54.2" height="53" fill="#ffffff"/>
<text x="1760.7" y="628.1" fill="#000000">48</text>
<rect x="1905.9" y="569.5" width="54.2" height="53" fill="#ffffff"/>
<text x="1933.0" y="608.5" fill="#000000">51</text>
<rect x="2078.1" y="595.6" width="54.2" height="53" fill="#ffffff"/>
<text x="2105.2" y="634.6" fill="#000000">47</text>
<rect x="2250.4" y="536.8" width="54.2" height="53" fill="#ffffff"/>
<text x="2277.5" y="575.8" fill="#000000">56</text>
</g>
<g id="difflabels" font-size="28.5" font-weight="bold" text-anchor="middle">
<rect x="191.4" y="988.9" width="38.3" height="53" fill="#ffffff"/>
<text x="210.5" y="1027.9" fill="#dd1f27">0</text>
<rect x="355.7" y="917.0" width="54.2" height="53" fill="#ffffff"/>
<text x="382.8" y="956.0" fill="#dd1f27">11</text>
<rect x="527.9" y="851.6" width="54.2" height="53" fill="#ffffff"/>
<text x="555.0" y="890.6" fill="#dd1f27">21</text>
<rect x="695.4" y="1224.3" width="63.7" height="53" fill="#ffffff"/>
<text x="727.3" y="1263.3" fill="#dd1f27">-36</text>
<rect x="867.7" y="1067.4" width="63.7" height="53" fill="#ffffff"/>
<text x="899.5" y="1106.4" fill="#dd1f27">-12</text>
<rect x="1052.6" y="943.1" width="38.3" height="53" fill="#ffffff"/>
<text x="1071.8" y="982.1" fill="#dd1f27">7</text>
<rect x="1216.9" y="917.0" width="54.2" height="53" fill="#ffffff"/>
<text x="1244.0" y="956.0" fill="#dd1f27">11</text>
<rect x="1384.4" y="1132.7" width="63.7" height="53" fill="#ffffff"/>
<text x="1416.2" y="1171.7" fill="#dd1f27">-22</text>
<rect x="1564.6" y="1002.0" width="47.8" height="53" fill="#ffffff"/>
<text x="1588.5" y="1041.0" fill="#dd1f27">-2</text>
<rect x="1741.6" y="975.8" width="38.3" height="53" fill="#ffffff"/>
<text x="1760.7" y="1014.8" fill="#dd1f27">2</text>
<rect x="1913.8" y="969.3" width="38.3" height="53" fill="#ffffff"/>
<text x="1933.0" y="1008.3" fill="#dd1f27">3</text>
<rect x="2081.3" y="1015.1" width="47.8" height="53" fill="#ffffff"/>
<text x="2105.2" y="1054.1" fill="#dd1f27">-4</text>
<rect x="2258.3" y="930.1" width="38.3" height="53" fill="#ffffff"/>
<text x="2277.5" y="969.1" fill="#dd1f27">9</text>
</g>
<g id="yticks" font-size="30" text-anchor="end" fill="#262626" stroke="#262626" stroke-width="0.7">
<text x="95.5" y="1375.7">-60</text>
<text x="95.5" y="1245.0">-40</text>
<text x="95.5" y="1114.2">-20</text>
<text x="95.5" y="983.4">0</text>
<text x="95.5" y="852.7">20</text>
<text x="95.5" y="721.9">40</text>
<text x="95.5" y="591.2">60</text>
<text x="95.5" y="460.4">80</text>
<text x="95.5" y="329.6">100</text>
<text x="95.5" y="198.9">120</text>
</g>
<g id="xticks" font-size="30" text-anchor="middle" fill="#181818" stroke="#181818" stroke-width="0.7">
<text x="210.5" y="1420.4">2006</text>
<text x="382.8" y="1420.4">2007</text>
<text x="555.0" y="1420.4">2008</text>
<text x="727.3" y="1420.4">2009</text>
<text x="899.5" y="1420.4">2010</text>
<text x="1071.8" y="1420.4">2011</text>
<text x="1244.0" y="1420.4">2012</text>
<text x="1416.2" y="1420.4">2013</text>
<text x="1588.5" y="1420.4">2014</text>
<text x="1760.7" y="1420.4">2015</text>
<text x="1933.0" y="1420.4">2016</text>
<text x="2105.2" y="1420.4">2017</text>
<text x="2277.5" y="1420.4">2018</text>
</g>
<text transform="translate(36,894.7) rotate(-90)" font-size="26" font-weight="bold" fill="#000" textLength="238.7" lengthAdjust="spacingAndGlyphs">Počet usmrcených</text>
<text x="1220" y="1468.3" font-size="28" font-weight="bold" fill="#1a1a1a" textLength="49.6" lengthAdjust="spacingAndGlyphs">Rok</text>
<g id="title" font-size="50" font-weight="bold" fill="#000">
<text y="80.4"><tspan x="476.3" textLength="131.8" lengthAdjust="spacingAndGlyphs">Vývoj</tspan> <tspan x="625.5" textLength="291.8" lengthAdjust="spacingAndGlyphs">usmrcených</tspan> <tspan x="928.9" textLength="172.8" lengthAdjust="spacingAndGlyphs">chodců</tspan> <tspan x="1118.5" textLength="57.5" lengthAdjust="spacingAndGlyphs">na</tspan> <tspan x="1195" textLength="265" lengthAdjust="spacingAndGlyphs">pozemních</tspan> <tspan x="1471.5" textLength="337" lengthAdjust="spacingAndGlyphs">komunikacích</tspan> <tspan x="1816.6" textLength="28.4" lengthAdjust="spacingAndGlyphs">v</tspan> <tspan x="1860.5" textLength="63.5" lengthAdjust="spacingAndGlyphs">ČR</tspan></text>
<rect x="623.3" y="89.1" width="297.5" height="4.6" fill="#000"/>
</g>
<text y="136.6" font-size="34.5" fill="#2c2c2c" stroke="#2c2c2c" stroke-width="0.7"><tspan x="936.8" textLength="163.2" lengthAdjust="spacingAndGlyphs">(usmrceno</tspan> <tspan x="1115.5" textLength="35.5" lengthAdjust="spacingAndGlyphs">do</tspan> <tspan x="1165.5" textLength="37.5" lengthAdjust="spacingAndGlyphs">24</tspan> <tspan x="1215.5" textLength="55.5" lengthAdjust="spacingAndGlyphs">hod</tspan> <tspan x="1284.5" textLength="38.5" lengthAdjust="spacingAndGlyphs">po</tspan> <tspan x="1334" textLength="125.5" lengthAdjust="spacingAndGlyphs">nehodě)</tspan></text>
<text y="1475" font-size="30.5" fill="#262626" stroke="#262626" stroke-width="0.65"><tspan x="1910" textLength="69.0" lengthAdjust="spacingAndGlyphs">zdroj</tspan> <tspan x="1987.7" textLength="147.7" lengthAdjust="spacingAndGlyphs">vstupních</tspan> <tspan x="2144" textLength="53.5" lengthAdjust="spacingAndGlyphs">dat:</tspan> <tspan x="2208" textLength="73.0" lengthAdjust="spacingAndGlyphs">ŘSDP</tspan> <tspan x="2293.3" textLength="35.7" lengthAdjust="spacingAndGlyphs">PP</tspan> <tspan x="2337.4" textLength="37.4" lengthAdjust="spacingAndGlyphs">ČR</tspan></text>
<text y="1519.6" font-size="30.5" font-weight="bold" fill="#111"><tspan x="2021" textLength="137.0" lengthAdjust="spacingAndGlyphs">Copyright</tspan> <tspan x="2176.3" textLength="29.2" lengthAdjust="spacingAndGlyphs">©</tspan> <tspan x="2213.3" textLength="66.7" lengthAdjust="spacingAndGlyphs">2018</tspan> <tspan x="2293.7" textLength="81.9" lengthAdjust="spacingAndGlyphs">BESIP</tspan></text>
<g id="legend" font-size="24.5" fill="#262626" stroke="#262626" stroke-width="0.6">
<rect x="106.4" y="1509.8" width="79.6" height="12" fill="#3d6aa3" stroke="none"/>
<text x="198.7" y="1524.3" textLength="59.0" lengthAdjust="spacingAndGlyphs">leden</text>
<rect x="324.7" y="1509.8" width="78.3" height="12" fill="#a84442" stroke="none"/>
<text x="415.5" y="1524.3" textLength="50.5" lengthAdjust="spacingAndGlyphs">únor</text>
<rect x="532.5" y="1509.8" width="80.5" height="12" fill="#86a041" stroke="none"/>
<text x="624.8" y="1524.3" textLength="71.6" lengthAdjust="spacingAndGlyphs">březen</text>
<rect x="763.5" y="1509.8" width="80.5" height="12" fill="#3a8ea6" stroke="none"/>
<text x="855.8" y="1524.3" textLength="67.5" lengthAdjust="spacingAndGlyphs">duben</text>
<rect x="992.0" y="1509.8" width="79.0" height="12" fill="#d98036" stroke="none"/>
<text x="1082.0" y="1524.3" textLength="71.0" lengthAdjust="spacingAndGlyphs">květen</text>
<rect x="1222.7" y="1509.8" width="78.2" height="12" fill="#4a7fc4" stroke="none"/>
<text x="1312.0" y="1524.3" textLength="72.0" lengthAdjust="spacingAndGlyphs">červen</text>
<line x1="1451.7" y1="1516.6" x2="1470.3" y2="1516.6" stroke="#000" stroke-width="9.5" stroke-linecap="round"/>
<line x1="1490.0" y1="1516.6" x2="1508.4" y2="1516.6" stroke="#000" stroke-width="9.5" stroke-linecap="round"/>
<line x1="1530.0" y1="1516.6" x2="1530.2" y2="1516.6" stroke="#000" stroke-width="9.5" stroke-linecap="round"/>
<text x="1542.6" y="1524.3" textLength="73.5" lengthAdjust="spacingAndGlyphs">celkem</text>
<line x1="1682.4" y1="1516.6" x2="1762.6" y2="1516.6" stroke="#cf1119" stroke-width="8.5" stroke-dasharray="0.01 19.99" stroke-linecap="round"/>
<text x="1778" y="1524.3" textLength="59" lengthAdjust="spacingAndGlyphs">rozdíl</text>
</g>
</svg>
</body>
</html>
